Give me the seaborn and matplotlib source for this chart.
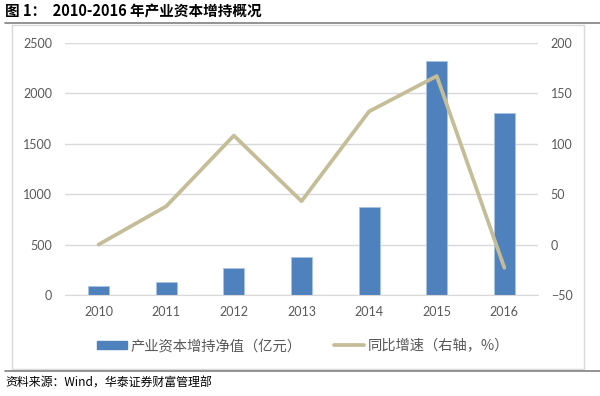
import numpy as np
import pandas as pd
import seaborn as sns
import matplotlib.pyplot as plt
from matplotlib.patches import Rectangle
from matplotlib.lines import Line2D

# values
years = ["2010", "2011", "2012", "2013", "2014", "2015", "2016"]
net_increase = [90, 126, 264, 374, 868, 2320, 1802]   # 亿元
growth = [0, 38, 108, 43, 132, 167, -23]              # %, right axis

bar_label = "产业资本增持净值（亿元）"
line_label = "同比增速（右轴，%）"
title = "图 1：  2010-2016 年产业资本增持概况"
source = "资料来源：Wind，华泰证券财富管理部"

bar_color = "#4F81BD"
line_color = "#C4BD97"
tick_color = "#595959"

df = pd.DataFrame({"year": years, "value": net_increase, "growth": growth})
df["pos"] = np.arange(len(df))

sns.set_style("white")
plt.rcParams["font.family"] = ["Noto Sans CJK SC", "DejaVu Sans"]

fig = plt.figure(figsize=(6, 3.96), dpi=100)
ax = fig.add_axes([0.108, 0.255, 0.789, 0.637])

sns.barplot(data=df, x="year", y="value", color=bar_color, width=0.31,
            saturation=1, edgecolor="#A9C3E3", linewidth=0.6, ax=ax, zorder=2)
ax.set_ylim(0, 2500)
ax.set_yticks(range(0, 2501, 500))
ax.set_xlim(-0.5, len(years) - 0.5)
ax.grid(axis="y", color="#D9D9D9", linewidth=1, zorder=0)
ax.set_axisbelow(True)

ax2 = ax.twinx()
sns.lineplot(data=df, x="pos", y="growth", color=line_color, linewidth=2.7,
             ax=ax2, zorder=3)
ax2.set_ylim(-50, 200)
ax2.set_yticks(range(-50, 201, 50))
ax2.set_xlim(-0.5, len(years) - 0.5)

for a in (ax, ax2):
    a.set_xlabel("")
    a.set_ylabel("")
    for s in a.spines.values():
        s.set_visible(False)
    a.tick_params(axis="both", length=0, labelsize=9, colors=tick_color)
    for lab in a.get_xticklabels() + a.get_yticklabels():
        lab.set_family(["Lato", "DejaVu Sans"])
ax.tick_params(axis="y", pad=9)
ax.tick_params(axis="x", pad=8)
ax2.tick_params(axis="y", pad=9)
ax.spines["bottom"].set_visible(True)
ax.spines["bottom"].set_color("#D9D9D9")

# legend
handles = [Rectangle((0, 0), 1, 1, color=bar_color),
           Line2D([0], [0], color=line_color, linewidth=2.7)]
fig.legend(handles, [bar_label, line_label], loc="center",
           bbox_to_anchor=(0.505, 1 - 346 / 396), ncol=2, frameon=False,
           fontsize=10.3, handlelength=2.1, handleheight=0.5,
           handletextpad=0.25, columnspacing=2.3,
           labelcolor=tick_color)

# chart frame, title rule, source rule
fig.patches.append(Rectangle((12 / 600, 1 - 369 / 396), 572 / 600, 344 / 396,
                             transform=fig.transFigure, fill=False,
                             edgecolor="#D9D9D9", linewidth=1))
fig.add_artist(Line2D([5 / 600, 1], [1 - 22.5 / 396] * 2,
                      transform=fig.transFigure, color="#808080", linewidth=1.2))
fig.add_artist(Line2D([5 / 600, 1], [1 - 371 / 396] * 2,
                      transform=fig.transFigure, color="#808080", linewidth=1.2))

fig.text(5 / 600, 1 - 11 / 396, title, fontsize=10.5, fontweight="bold",
         va="center", ha="left", color="#000000")
fig.text(5 / 600, 1 - 383 / 396, source, fontsize=8.6, style="italic",
         va="center", ha="left", color="#000000")

fig.savefig("out.png", dpi=100)
